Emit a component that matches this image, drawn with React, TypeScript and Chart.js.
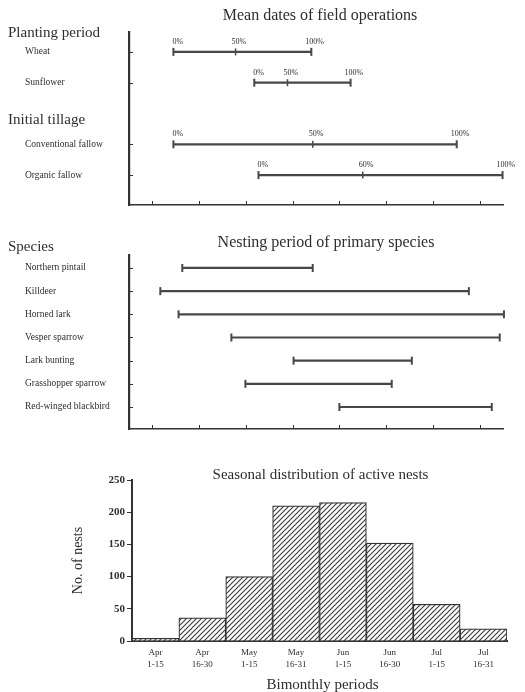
import React, { useEffect, useRef } from "react";
import { Chart, registerables } from "chart.js";
Chart.register(...registerables);

// ---------- Data ----------
// Panel 1: mean dates of field operations (x = bimonthly period index, 1 = Apr 1-15 ... 8 = Jul 16-31)
const opsGroups = ["Planting period", "Initial tillage"];
const opsNames = ["Wheat", "Sunflower", "Conventional fallow", "Organic fallow"];
const opsGroupOf = [0, 0, 1, 1];
const opsRows = [1, 2, 4, 5];
const opsStart = [1.45, 3.18, 1.45, 3.27];
const opsMid = [2.78, 3.89, 4.43, 5.5];
const opsEnd = [4.4, 5.24, 7.51, 8.49];
const opsStartLabel = ["0%", "0%", "0%", "0%"];
const opsMidLabel = ["50%", "50%", "50%", "60%"];
const opsEndLabel = ["100%", "100%", "100%", "100%"];

// Panel 2: nesting period of primary species
const speciesHeader = "Species";
const speciesNames = [
  "Northern pintail",
  "Killdeer",
  "Horned lark",
  "Vesper sparrow",
  "Lark bunting",
  "Grasshopper sparrow",
  "Red-winged blackbird",
];
const speciesRows = [1, 2, 3, 4, 5, 6, 7];
const nestStart = [1.64, 1.17, 1.56, 2.69, 4.02, 2.99, 5.0];
const nestEnd = [4.43, 7.77, 8.52, 8.43, 6.55, 6.12, 8.26];

// Panel 3: seasonal distribution of active nests
const periodLabels = [
  ["Apr", "1-15"],
  ["Apr", "16-30"],
  ["May", "1-15"],
  ["May", "16-31"],
  ["Jun", "1-15"],
  ["Jun", "16-30"],
  ["Jul", "1-15"],
  ["Jul", "16-31"],
];
const activeNests = [4, 36, 100, 210, 215, 152, 57, 19];
const periodTicks = [1, 2, 3, 4, 5, 6, 7, 8];

const titles = [
  "Mean dates of field operations",
  "Nesting period of primary species",
  "Seasonal distribution of active nests",
];
const xTitle = "Bimonthly periods";
const yTitle = "No. of nests";

// ---------- Styles ----------
const FONT = "'Liberation Serif', 'DejaVu Serif', serif";
const INK = "#2e2e2e";
const LINE = "#474747";
const AXIS = "#333333";

function txt(
  ctx: CanvasRenderingContext2D,
  s: string,
  x: number,
  y: number,
  size: number,
  align: CanvasTextAlign,
  weight = "normal",
  color = INK
) {
  ctx.save();
  ctx.font = `${weight} ${size}px ${FONT}`;
  ctx.fillStyle = color;
  ctx.textAlign = align;
  ctx.textBaseline = "middle";
  ctx.fillText(s, x, y);
  ctx.restore();
}

function innerTicks(chart: any, rows: number[]) {
  const ctx = chart.ctx as CanvasRenderingContext2D;
  const xs = chart.scales.x;
  const ys = chart.scales.y;
  const a = chart.chartArea;
  ctx.save();
  ctx.strokeStyle = AXIS;
  ctx.lineWidth = 1;
  ctx.beginPath();
  periodTicks.forEach((v) => {
    const px = Math.round(xs.getPixelForValue(v)) + 0.5;
    ctx.moveTo(px, a.bottom);
    ctx.lineTo(px, a.bottom - 4);
  });
  rows.forEach((r) => {
    const py = Math.round(ys.getPixelForValue(r)) + 0.5;
    ctx.moveTo(a.left, py);
    ctx.lineTo(a.left + 4, py);
  });
  ctx.stroke();
  ctx.restore();
}

function rangeDatasets(starts: number[], ends: number[], rows: number[], mids?: number[]) {
  const ds: any[] = [];
  rows.forEach((r, i) => {
    ds.push({
      data: [
        { x: starts[i], y: r },
        { x: ends[i], y: r },
      ],
      showLine: true,
      borderColor: LINE,
      borderWidth: 2.2,
      pointStyle: "line",
      rotation: 90,
      pointRadius: 4,
      pointBorderWidth: 2,
      pointBorderColor: LINE,
      clip: false,
    });
    if (mids) {
      ds.push({
        data: [{ x: mids[i], y: r }],
        showLine: false,
        pointStyle: "line",
        rotation: 90,
        pointRadius: 3.5,
        pointBorderWidth: 1.5,
        pointBorderColor: LINE,
        borderColor: LINE,
        clip: false,
      });
    }
  });
  return ds;
}

function rangeScales(yMin: number, yMax: number, xHeight: number) {
  return {
    x: {
      type: "linear",
      min: 0.5,
      max: 8.5,
      ticks: { display: false },
      grid: { display: false },
      border: { display: true, color: AXIS, width: 1.5 },
      afterFit: (s: any) => {
        s.height = xHeight;
      },
    },
    y: {
      type: "linear",
      reverse: true,
      min: yMin,
      max: yMax,
      ticks: { display: false },
      grid: { display: false },
      border: { display: true, color: AXIS, width: 2.2 },
      afterFit: (s: any) => {
        s.width = 129;
      },
    },
  };
}

function hatchPattern(ctx: CanvasRenderingContext2D) {
  const n = 5;
  const c = document.createElement("canvas");
  c.width = n;
  c.height = n;
  const g = c.getContext("2d")!;
  g.fillStyle = "#ffffff";
  g.fillRect(0, 0, n, n);
  g.strokeStyle = "#3a3a3a";
  g.lineWidth = 1.1;
  g.beginPath();
  g.moveTo(0, n);
  g.lineTo(n, 0);
  g.moveTo(-1, 1);
  g.lineTo(1, -1);
  g.moveTo(n - 1, n + 1);
  g.lineTo(n + 1, n - 1);
  g.stroke();
  return ctx.createPattern(c, "repeat");
}

export default function App() {
  const ref1 = useRef<HTMLCanvasElement>(null);
  const ref2 = useRef<HTMLCanvasElement>(null);
  const ref3 = useRef<HTMLCanvasElement>(null);

  useEffect(() => {
    const charts: Chart[] = [];

    // ---- Panel 1 ----
    const p1 = {
      id: "p1",
      afterDraw(chart: any) {
        const ctx = chart.ctx;
        const xs = chart.scales.x;
        const ys = chart.scales.y;
        const a = chart.chartArea;
        innerTicks(chart, opsRows);
        txt(ctx, titles[0], (a.left + a.right) / 2 + 4, 16, 16, "center");
        opsGroups.forEach((g, gi) => {
          const first = opsGroupOf.indexOf(gi);
          const py = ys.getPixelForValue(opsRows[first]);
          txt(ctx, g, 8, py - (gi === 0 ? 19 : 24), 15, "left");
        });
        opsNames.forEach((n, i) => {
          const py = ys.getPixelForValue(opsRows[i]);
          txt(ctx, n, 25, py, 9.5, "left");
          const ly = py - 10;
          txt(ctx, opsStartLabel[i], xs.getPixelForValue(opsStart[i]) - 1, ly, 8, "left");
          txt(ctx, opsMidLabel[i], xs.getPixelForValue(opsMid[i]) - 4, ly, 8, "left");
          txt(ctx, opsEndLabel[i], xs.getPixelForValue(opsEnd[i]) - 6, ly, 8, "left");
        });
      },
    };
    charts.push(
      new Chart(ref1.current!, {
        type: "scatter",
        data: { datasets: rangeDatasets(opsStart, opsEnd, opsRows, opsMid) },
        options: {
          responsive: false,
          animation: false,
          layout: { padding: { left: 0, right: 22, top: 32, bottom: 0 } },
          plugins: { legend: { display: false }, tooltip: { enabled: false } },
          scales: rangeScales(0.355, 5.97, 10) as any,
        },
        plugins: [p1],
      })
    );

    // ---- Panel 2 ----
    const p2 = {
      id: "p2",
      afterDraw(chart: any) {
        const ctx = chart.ctx;
        const ys = chart.scales.y;
        const a = chart.chartArea;
        innerTicks(chart, speciesRows);
        txt(ctx, titles[1], (a.left + a.right) / 2 + 10, 28, 16, "center");
        txt(ctx, speciesHeader, 8, ys.getPixelForValue(speciesRows[0]) - 21, 15, "left");
        speciesNames.forEach((n, i) => {
          txt(ctx, n, 25, ys.getPixelForValue(speciesRows[i]), 9.5, "left");
        });
      },
    };
    charts.push(
      new Chart(ref2.current!, {
        type: "scatter",
        data: { datasets: rangeDatasets(nestStart, nestEnd, speciesRows) },
        options: {
          responsive: false,
          animation: false,
          layout: { padding: { left: 0, right: 22, top: 40, bottom: 0 } },
          plugins: { legend: { display: false }, tooltip: { enabled: false } },
          scales: rangeScales(0.44, 7.95, 11) as any,
        },
        plugins: [p2],
      })
    );

    // ---- Panel 3 ----
    const c3 = ref3.current!;
    const pattern = hatchPattern(c3.getContext("2d")!);
    const p3 = {
      id: "p3",
      afterDraw(chart: any) {
        const ctx = chart.ctx;
        const a = chart.chartArea;
        const cx = (a.left + a.right) / 2;
        txt(ctx, titles[2], cx + 1, 35, 15, "center");
        txt(ctx, xTitle, cx + 3, 245, 15, "center");
        ctx.save();
        ctx.translate(78, (a.top + a.bottom) / 2);
        ctx.rotate(-Math.PI / 2);
        txt(ctx, yTitle, 0, 0, 14, "center");
        ctx.restore();
      },
    };
    charts.push(
      new Chart(c3, {
        type: "bar",
        data: {
          labels: periodLabels as any,
          datasets: [
            {
              data: activeNests,
              backgroundColor: pattern as any,
              borderColor: "#333333",
              borderWidth: 1.2,
              barPercentage: 1,
              categoryPercentage: 1,
            },
          ],
        },
        options: {
          responsive: false,
          animation: false,
          layout: { padding: { left: 0, right: 18, top: 40, bottom: 0 } },
          plugins: { legend: { display: false }, tooltip: { enabled: false } },
          scales: {
            x: {
              grid: { display: false },
              border: { display: true, color: AXIS, width: 2 },
              ticks: {
                font: { family: FONT, size: 9, lineHeight: 1.3 },
                color: INK,
                padding: -2,
                maxRotation: 0,
                autoSkip: false,
              },
              afterFit: (s: any) => {
                s.height = 51;
              },
            } as any,
            y: {
              min: 0,
              max: 250,
              ticks: {
                stepSize: 50,
                font: { family: FONT, size: 11, weight: "600" },
                color: INK,
                padding: 2,
              },
              grid: { drawOnChartArea: false, tickLength: 5, color: AXIS },
              border: { display: true, color: AXIS, width: 2 },
              afterFit: (s: any) => {
                s.width = 132;
              },
            } as any,
          },
        },
        plugins: [p3],
      })
    );

    return () => charts.forEach((c) => c.destroy());
  }, []);

  const wrap: React.CSSProperties = {
    position: "absolute",
    left: 0,
    top: 0,
    width: 525,
    height: 692,
    background: "#ffffff",
  };
  const cv = (top: number, h: number): React.CSSProperties => ({
    position: "absolute",
    left: 0,
    top,
    width: 525,
    height: h,
    display: "block",
  });

  return (
    <div style={wrap}>
      <canvas ref={ref1} width={525} height={215} style={cv(0, 215)} />
      <canvas ref={ref2} width={525} height={225} style={cv(215, 225)} />
      <canvas ref={ref3} width={525} height={252} style={cv(440, 252)} />
    </div>
  );
}
